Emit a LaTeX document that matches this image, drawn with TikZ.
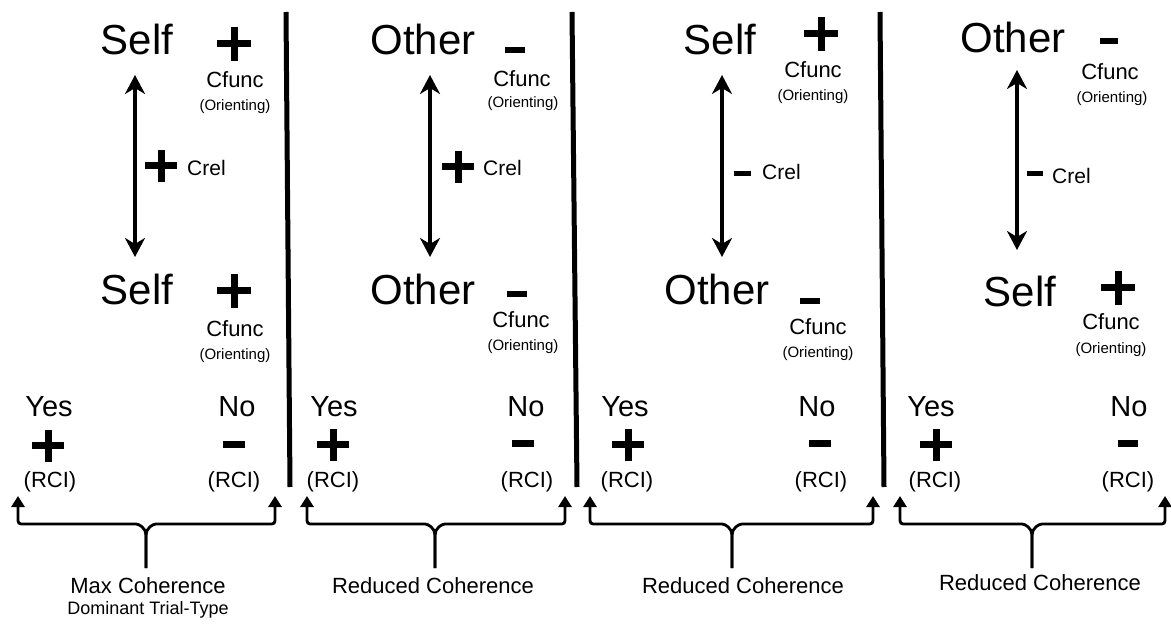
\documentclass[tikz,border=0pt]{standalone}
\usepackage{fontspec}
\setmainfont{Liberation Sans}
\usetikzlibrary{arrows.meta}
\tikzset{
  big/.style={font=\fontsize{42}{48}\selectfont, inner sep=0pt, anchor=base},
  cf/.style={font=\fontsize{22}{26}\selectfont, inner sep=0pt, anchor=base},
  ori/.style={font=\fontsize{15}{18}\selectfont, inner sep=0pt, anchor=base},
  crel/.style={font=\fontsize{21}{25}\selectfont, inner sep=0pt, anchor=base west},
  yn/.style={font=\fontsize{29}{33}\selectfont, inner sep=0pt, anchor=base},
  rci/.style={font=\fontsize{22}{26}\selectfont, inner sep=0pt, anchor=base},
  lab/.style={font=\fontsize{22}{26}\selectfont, inner sep=0pt, anchor=base},
  labsmall/.style={font=\fontsize{18}{22}\selectfont, inner sep=0pt, anchor=base},
  divider/.style={line width=5pt},
  dbl/.style={line width=3.2pt, {Stealth[length=19pt,width=20pt,inset=6pt]}-{Stealth[length=19pt,width=20pt,inset=6pt]}},
  bracearm/.style={line width=2.8pt, -{Triangle[length=11pt,width=13pt]}},
  pics/plusmark/.style={code={\draw[line width=7pt] (-#1,0) -- (#1,0) (0,-#1) -- (0,#1);}},
  pics/minusmark/.style n args={2}{code={\draw[line width=#2pt] (-#1,0) -- (#1,0);}},
}
\newcommand\bracepair[4]{% left tip x, right tip x, centre x, name
  \coordinate (#4L) at (#1,496);
  \coordinate (#4R) at (#2,496);
  \coordinate (#4C) at (#3,568);
  \draw[bracearm] (#4C) -- ++(0,-33) .. controls ++(0,-7) and ++(3,0) .. ++(-10,-11) -- (#1+7,524) .. controls (#1,524) .. (#1,517) -- (#4L);
  \draw[bracearm] (#4C) -- ++(0,-33) .. controls ++(0,-7) and ++(-3,0) .. ++(10,-11) -- (#2-7,524) .. controls (#2,524) .. (#2,517) -- (#4R);
}
\begin{document}
\begin{tikzpicture}[x=1pt,y=-1pt]
\useasboundingbox (0,0) rectangle (1171,628);
\fill[white] (0,0) rectangle (1171,628);

% dividers
\draw[divider] (286,12) -- (290,487);
\draw[divider] (572,12) -- (577,487);
\draw[divider] (880,12) -- (884,487);

% ---------------- Panel 1 ----------------
\node[big] (p1top) at (137,55) {Self};
\pic at (234,44) {plusmark=17};
\node[cf] (p1cfa) at (235,88) {Cfunc};
\node[ori] (p1ora) at (235,111) {(Orienting)};
\coordinate (p1at) at (135,75);
\coordinate (p1ab) at (135,257);
\draw[dbl] (p1at) -- (p1ab);
\pic at (161,166) {plusmark=16};
\node[crel] (p1crel) at (187,176) {Crel};
\node[big] (p1bot) at (137,305) {Self};
\pic at (234,291) {plusmark=17};
\node[cf] (p1cfb) at (235,337) {Cfunc};
\node[ori] (p1orb) at (235,360) {(Orienting)};
\node[yn] (p1yes) at (49,417) {Yes};
\pic at (48,446) {plusmark=16};
\node[rci] (p1rcia) at (50,487) {(RCI)};
\node[yn] (p1no) at (237,417) {No};
\pic at (234,445) {minusmark={11}{7}};
\node[rci] (p1rcib) at (234,487) {(RCI)};
\bracepair{18}{275}{146}{p1b}
\node[lab] (p1lab) at (148,593) {Max Coherence};
\node[labsmall] (p1lab2) at (148,614) {Dominant Trial-Type};

% ---------------- Panel 2 ----------------
\node[big] (p2top) at (423,55) {Other};
\pic at (515,50) {minusmark={10}{6}};
\node[cf] (p2cfa) at (522,87) {Cfunc};
\node[ori] (p2ora) at (523,108) {(Orienting)};
\coordinate (p2at) at (430,75);
\coordinate (p2ab) at (430,257);
\draw[dbl] (p2at) -- (p2ab);
\pic at (458,167) {plusmark=16};
\node[crel] (p2crel) at (483,176) {Crel};
\node[big] (p2bot) at (423,305) {Other};
\pic at (517,294) {minusmark={10}{6}};
\node[cf] (p2cfb) at (521,328) {Cfunc};
\node[ori] (p2orb) at (523,351) {(Orienting)};
\node[yn] (p2yes) at (334,417) {Yes};
\pic at (333,445) {plusmark=16};
\node[rci] (p2rcia) at (333,487) {(RCI)};
\node[yn] (p2no) at (526,417) {No};
\pic at (523,444) {minusmark={11}{7}};
\node[rci] (p2rcib) at (527,487) {(RCI)};
\bracepair{307}{565}{435}{p2b}
\node[lab] (p2lab) at (433,593) {Reduced Coherence};

% ---------------- Panel 3 ----------------
\node[big] (p3top) at (720,55) {Self};
\pic at (821,34) {plusmark=17};
\node[cf] (p3cfa) at (813,78) {Cfunc};
\node[ori] (p3ora) at (813,101) {(Orienting)};
\coordinate (p3at) at (722,75);
\coordinate (p3ab) at (722,257);
\draw[dbl] (p3at) -- (p3ab);
\pic at (742,174) {minusmark={8.5}{5}};
\node[crel] (p3crel) at (762,180) {Crel};
\node[big] (p3bot) at (717,305) {Other};
\pic at (810,301) {minusmark={10}{6}};
\node[cf] (p3cfb) at (818,335) {Cfunc};
\node[ori] (p3orb) at (818,358) {(Orienting)};
\node[yn] (p3yes) at (625,417) {Yes};
\pic at (628,445) {plusmark=16};
\node[rci] (p3rcia) at (627,487) {(RCI)};
\node[yn] (p3no) at (817,417) {No};
\pic at (820,444) {minusmark={11}{7}};
\node[rci] (p3rcib) at (821,487) {(RCI)};
\bracepair{590}{873}{732}{p3b}
\node[lab] (p3lab) at (743,593) {Reduced Coherence};

% ---------------- Panel 4 ----------------
\node[big] (p4top) at (1013,53) {Other};
\pic at (1109,41) {minusmark={9}{6}};
\node[cf] (p4cfa) at (1110,80) {Cfunc};
\node[ori] (p4ora) at (1112,103) {(Orienting)};
\coordinate (p4at) at (1017,70);
\coordinate (p4ab) at (1017,250);
\draw[dbl] (p4at) -- (p4ab);
\pic at (1035,174) {minusmark={8}{5}};
\node[crel] (p4crel) at (1052,184) {Crel};
\node[big] (p4bot) at (1020,307) {Self};
\pic at (1118,288) {plusmark=17};
\node[cf] (p4cfb) at (1111,330) {Cfunc};
\node[ori] (p4orb) at (1111,354) {(Orienting)};
\node[yn] (p4yes) at (931,417) {Yes};
\pic at (936,445) {plusmark=16};
\node[rci] (p4rcia) at (935,487) {(RCI)};
\node[yn] (p4no) at (1129,417) {No};
\pic at (1128,444) {minusmark={10}{7}};
\node[rci] (p4rcib) at (1128,487) {(RCI)};
\bracepair{900}{1165}{1032}{p4b}
\node[lab] (p4lab) at (1040,590) {Reduced Coherence};
\end{tikzpicture}
\end{document}
